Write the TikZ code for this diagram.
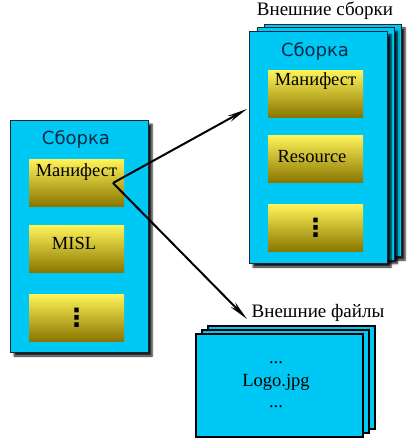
\documentclass[tikz,border=0pt]{standalone}
\usepackage{fontspec}
\setmainfont{Liberation Serif}
\newfontfamily\titlefont{DejaVu Sans}
\usetikzlibrary{shadows.blur,arrows.meta}
\definecolor{cy}{HTML}{00C8F5}
\definecolor{edge}{HTML}{13283A}
\definecolor{ttl}{HTML}{0A2A44}
\definecolor{ytop}{HTML}{FFF45A}
\definecolor{ymid}{HTML}{E8D41A}
\definecolor{ybot}{HTML}{8A7600}
\begin{document}
\begin{tikzpicture}[x=1pt,y=-1pt,
  asmbox/.style={draw=edge, line width=1pt, fill=cy, inner sep=0pt, anchor=north west,
    blur shadow={shadow xshift=3.5pt, shadow yshift=-3.5pt, shadow blur steps=5, shadow opacity=90}},
  ybox/.style={top color=ytop, middle color=ymid, bottom color=ybot, inner sep=0pt,
    minimum width=95pt, minimum height=47pt, anchor=north west},
  filebox/.style={draw=black, line width=1.8pt, fill=cy, inner sep=0pt, anchor=north west,
    minimum width=167pt, minimum height=103pt},
  boxtext/.style={font=\fontsize{18.5}{20}\selectfont, text=black, inner sep=0pt, anchor=base},
  titletext/.style={font=\titlefont\fontsize{18}{20}\selectfont, text=ttl, inner sep=0pt, anchor=base},
  lbltext/.style={font=\fontsize{19}{21}\selectfont, inner sep=0pt, anchor=base},
  dotstext/.style={font=\titlefont\bfseries\fontsize{25}{27}\selectfont, inner sep=0pt},
  arr/.style={line width=2pt, -{Stealth[length=20pt,width=6.5pt]}}
]
\useasboundingbox (0,0) rectangle (417,446);

% ---------- left assembly ----------
\node[asmbox, minimum width=138pt, minimum height=232pt] (lasm) at (10,120) {};
\node[titletext] (ltitle) at (76,145) {Сборка};
\node[ybox] (lman) at (29,159) {};
\node[ybox] (lmisl) at (29,225) {};
\node[ybox] (ldots) at (29,294) {};
\node[boxtext] (lmant) at (76.5,176) {Манифест};
\node[boxtext] (lmislt) at (74,249) {MISL};
\node[dotstext] (ldotst) at (ldots.center) {⋮};

% ---------- right assembly stack ----------
\node[asmbox, minimum width=137pt, minimum height=232pt] (rb3) at (264,24) {};
\node[asmbox, minimum width=137pt, minimum height=232pt] (rb2) at (256.5,27.5) {};
\node[asmbox, minimum width=138pt, minimum height=232pt] (rb1) at (249,31) {};
\node[titletext] (rtitle) at (315,57) {Сборка};
\node[ybox] (rman) at (268,70) {};
\node[ybox] (rres) at (268,135) {};
\node[ybox] (rdots) at (268,204) {};
\node[boxtext] (rmant) at (315.5,86) {Манифест};
\node[boxtext] (rrest) at (312,163) {Resource};
\node[dotstext] (rdotst) at (rdots.center) {⋮};
\node[lbltext] (rlabel) at (325,16) {Внешние сборки};

% ---------- files stack ----------
\node[filebox] (fb3) at (207,325) {};
\node[filebox] (fb2) at (201,329) {};
\node[filebox] (fb1) at (195,333) {};
\node[boxtext] (fd1) at (276,363) {...};
\node[boxtext] (flogo) at (276,386) {Logo.jpg};
\node[boxtext] (fd2) at (276,407) {...};
\node[lbltext] (flabel) at (318,317) {Внешние файлы};

% ---------- arrows ----------
\coordinate (src) at (113,183);
\coordinate (t1) at (247,109);
\coordinate (t2) at (247,319);
\draw[arr] (src) -- (t1);
\draw[arr] (src) -- (t2);
\end{tikzpicture}
\end{document}
